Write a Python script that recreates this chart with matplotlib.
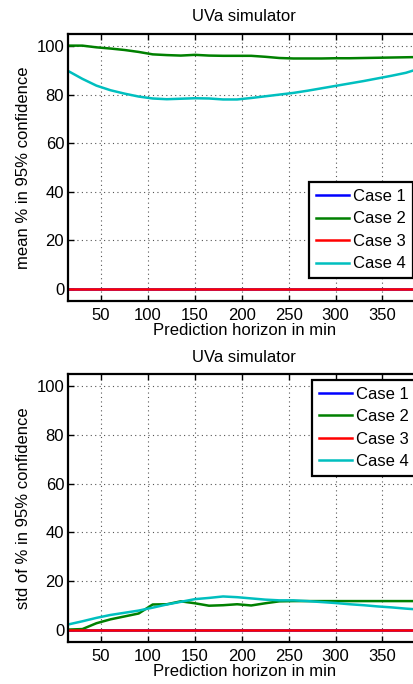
import matplotlib
matplotlib.use('Agg')
import matplotlib.pyplot as plt

# prediction horizon (min)
horizon = [15, 30, 45, 60, 75, 90, 105, 120, 135, 150, 165, 180, 195,
           210, 225, 240, 255, 270, 285, 300, 315, 330, 345, 360, 375, 390]

case_labels = ['Case 1', 'Case 2', 'Case 3', 'Case 4']

# mean % in 95% confidence
mean_case1 = [0.0] * 26
mean_case2 = [100.2, 100.2, 99.5, 99.0, 98.4, 97.6, 96.6, 96.3, 96.1, 96.4, 96.1, 96.0, 96.0,
              96.0, 95.6, 95.1, 94.9, 94.9, 94.9, 95.0, 95.0, 95.1, 95.2, 95.3, 95.4, 95.5]
mean_case3 = [0.0] * 26
mean_case4 = [89.7, 86.5, 83.7, 81.8, 80.4, 79.2, 78.4, 78.1, 78.3, 78.5, 78.4, 78.0, 78.0,
              78.6, 79.3, 80.0, 80.7, 81.6, 82.6, 83.6, 84.6, 85.6, 86.7, 87.8, 89.0, 90.8]

# std of % in 95% confidence
std_case1 = [0.0] * 26
std_case2 = [0.0, 0.2, 2.6, 4.2, 5.4, 6.6, 10.3, 10.4, 11.6, 10.8, 9.8, 10.0, 10.4,
             9.9, 10.8, 11.6, 11.7, 11.7, 11.7, 11.7, 11.7, 11.7, 11.7, 11.7, 11.7, 11.7]
std_case3 = [0.0] * 26
std_case4 = [2.1, 3.4, 4.8, 6.0, 6.9, 7.8, 9.0, 10.3, 11.4, 12.5, 13.0, 13.6, 13.3,
             12.8, 12.3, 12.0, 12.0, 11.7, 11.3, 10.9, 10.4, 10.0, 9.5, 9.1, 8.6, 8.2]

colors = ['#0000ff', '#008000', '#ff0000', '#00bfbf']

plt.rcParams['font.family'] = ['Liberation Sans', 'DejaVu Sans']
fs = 12

fig = plt.figure(figsize=(4.14, 6.84), dpi=100)
ax_top = fig.add_axes([0.165, 0.5604, 0.8495, 0.3899])
ax_bot = fig.add_axes([0.165, 0.0618, 0.8495, 0.3914])

panels = [
    (ax_top, [mean_case1, mean_case2, mean_case3, mean_case4],
     'mean % in 95% confidence', 'lower left', (0.684, 0.085)),
    (ax_bot, [std_case1, std_case2, std_case3, std_case4],
     'std of % in 95% confidence', 'upper left', (0.693, 0.978)),
]

for ax, series, ylab, loc, anchor in panels:
    for vals, c, lab in zip(series, colors, case_labels):
        ax.plot(horizon, vals, color=c, lw=1.8, label=lab)
    ax.set_xlim(15, 390)
    ax.set_ylim(-5, 105)
    ax.set_xticks([50, 100, 150, 200, 250, 300, 350])
    ax.set_yticks([0, 20, 40, 60, 80, 100])
    ax.grid(True, linestyle=(0, (1, 3)), color='#555555', lw=0.8)
    ax.tick_params(direction='in', top=True, right=True, length=4, width=1,
                   labelsize=fs)
    ax.tick_params(axis='x', pad=5)
    ax.tick_params(axis='y', pad=3)
    for sp in ax.spines.values():
        sp.set_linewidth(1.6)
    ax.set_title('UVa simulator', fontsize=fs, pad=9)
    ax.set_xlabel('Prediction horizon in min', fontsize=fs, labelpad=0)
    ax.set_ylabel(ylab, fontsize=fs, labelpad=4)
    leg = ax.legend(loc=loc, bbox_to_anchor=anchor, borderaxespad=0,
                    fancybox=False, framealpha=1, edgecolor='black',
                    handlelength=2.0, handletextpad=0.25, labelspacing=0.45,
                    borderpad=0.4, fontsize=fs)
    leg.get_frame().set_linewidth(1.6)

fig.savefig('out.png', dpi=100)
